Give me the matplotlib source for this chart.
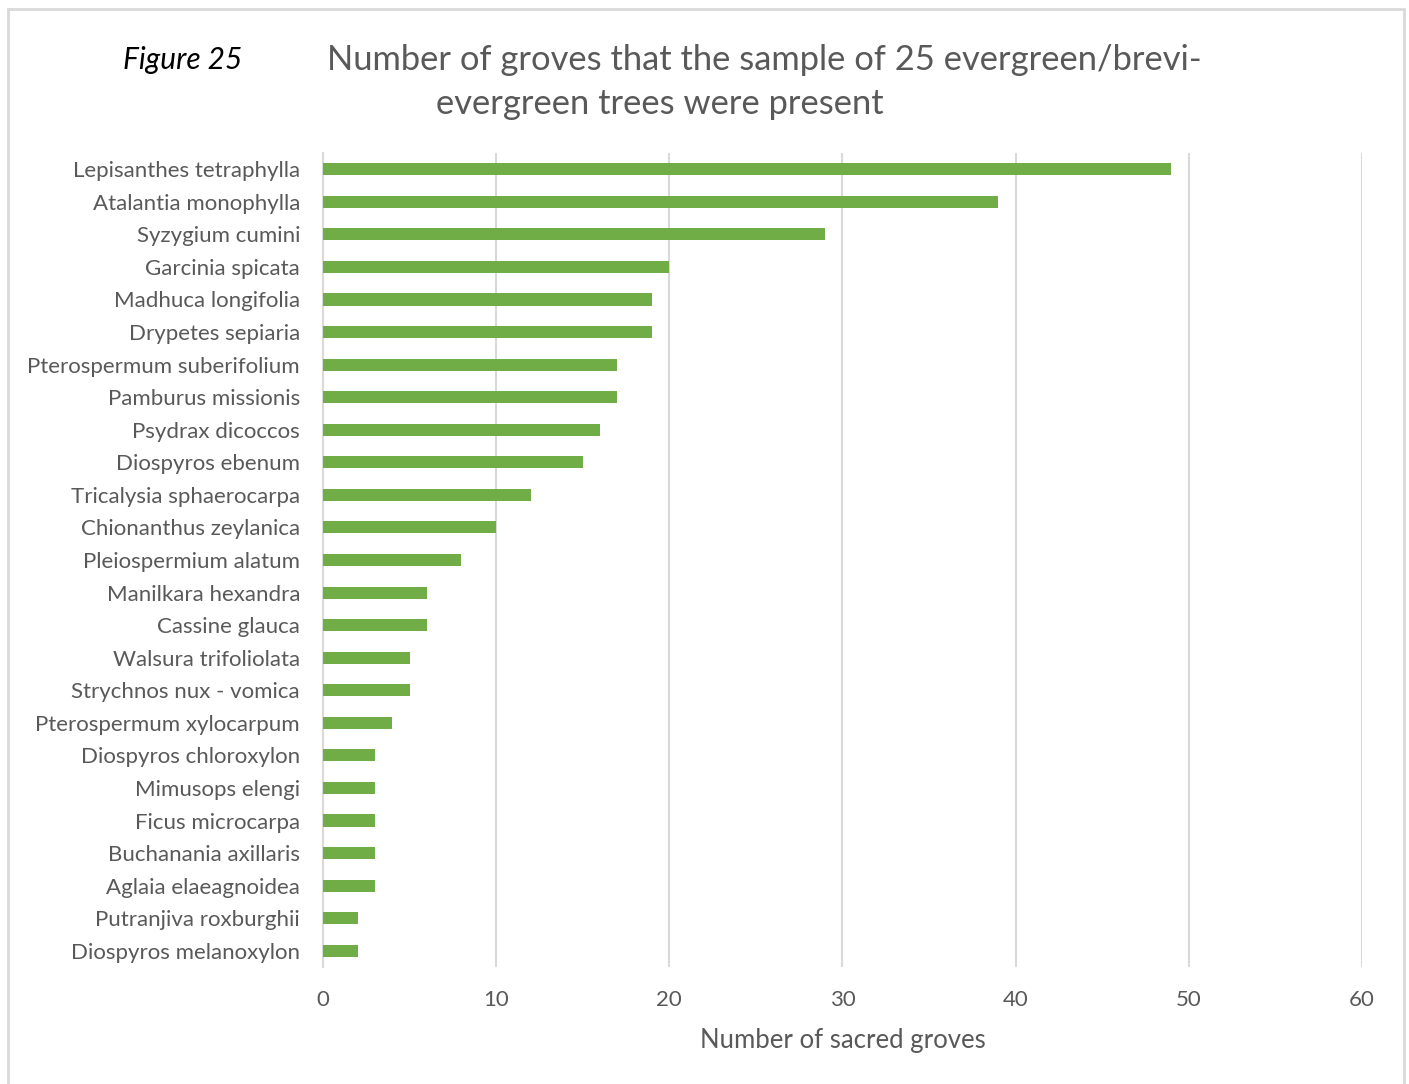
import matplotlib.pyplot as plt
from matplotlib.patches import Rectangle

plt.rcParams['font.family'] = ['Lato', 'DejaVu Sans']

species = [
    "Lepisanthes tetraphylla", "Atalantia monophylla", "Syzygium cumini",
    "Garcinia spicata", "Madhuca longifolia", "Drypetes sepiaria",
    "Pterospermum suberifolium", "Pamburus missionis", "Psydrax dicoccos",
    "Diospyros ebenum", "Tricalysia sphaerocarpa", "Chionanthus zeylanica",
    "Pleiospermium alatum", "Manilkara hexandra", "Cassine glauca",
    "Walsura trifoliolata", "Strychnos nux - vomica", "Pterospermum xylocarpum",
    "Diospyros chloroxylon", "Mimusops elengi", "Ficus microcarpa",
    "Buchanania axillaris", "Aglaia elaeagnoidea", "Putranjiva roxburghii",
    "Diospyros melanoxylon",
]
groves = [49, 39, 29, 20, 19, 19, 17, 17, 16, 15, 12, 10, 8, 6, 6, 5, 5, 4,
          3, 3, 3, 3, 3, 2, 2]
xticks = [0, 10, 20, 30, 40, 50, 60]

grey = '#595959'
grid = '#D9D9D9'

fig = plt.figure(figsize=(14.09, 10.84), dpi=100)
ax = fig.add_axes([0.2292, 0.1079, 0.7374, 0.751])

ax.barh(range(len(species)), groves, height=0.37, color='#70AD47', zorder=3)
ax.set_ylim(len(species) - 0.5, -0.5)
ax.set_xlim(0, 60)
ax.set_xticks(xticks)
ax.set_yticks(range(len(species)))
ax.set_yticklabels(species)

ax.grid(axis='x', color=grid, linewidth=1.5, zorder=0)
for s in ['top', 'right', 'bottom']:
    ax.spines[s].set_visible(False)
ax.spines['left'].set_color(grid)
ax.spines['left'].set_linewidth(1.5)
ax.tick_params(axis='both', length=0, labelsize=16, labelcolor=grey)
ax.tick_params(axis='y', pad=16.5)
ax.tick_params(axis='x', pad=16.5)

ax.set_xlabel("Number of sacred groves", fontsize=18.5, color=grey, labelpad=13)

fig.text(123 / 1409, 1 - 60 / 1084, "Figure 25", fontsize=21.5, style='italic',
         color='black', ha='left', va='center')
fig.text(764 / 1409, 1 - 60 / 1084,
         "Number of groves that the sample of 25 evergreen/brevi-",
         fontsize=24.8, color=grey, ha='center', va='center')
fig.text(660 / 1409, 1 - 104 / 1084, "evergreen trees were present",
         fontsize=24.8, color=grey, ha='center', va='center')

# outer chart frame
fig.patches.append(Rectangle((8 / 1409, -0.01), (1404 - 8) / 1409, 1.01 - 9 / 1084,
                             transform=fig.transFigure, fill=False,
                             edgecolor='#D9D9D9', linewidth=2))

fig.savefig('out.png', dpi=100)
